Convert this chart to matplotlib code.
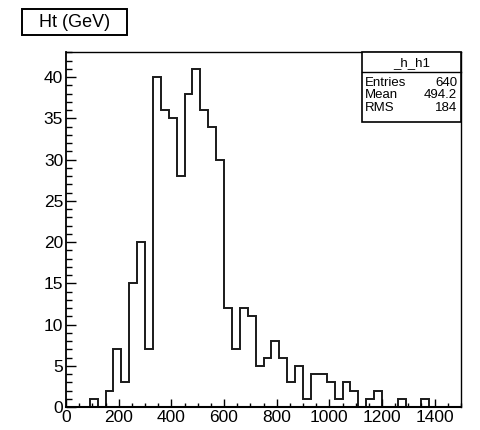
"""
Ht histogram redrawn in the ROOT style (outline histogram, title box,
stats box in the upper right corner).
"""

import numpy as np
import matplotlib.pyplot as plt
from matplotlib.patches import Rectangle
from matplotlib.ticker import MultipleLocator

# ── Data ───────────────────────────────────────────────────────────────────────
HT_MIN, HT_MAX, BIN_WIDTH = 0, 1500, 30
COUNTS = [0, 0, 0, 1, 0, 2, 7, 3, 15, 20,
          7, 40, 36, 35, 28, 38, 41, 36, 34, 30,
          12, 7, 12, 11, 5, 6, 8, 6, 3, 5,
          1, 4, 4, 3, 1, 3, 2, 0, 1, 2,
          0, 0, 1, 0, 0, 1, 0, 0, 0, 0]

TITLE        = "Ht (GeV)"
STATS_NAME   = "_h_h1"
STATS_LABELS = ["Entries", "Mean", "RMS"]
STATS_VALUES = ["640", "494.2", "184"]

W, H = 480, 430
plt.rcParams["font.family"] = ["Liberation Sans", "DejaVu Sans"]


def fx(px):
    return px / W


def fy(py):
    return 1 - py / H


def draw_hist(ax):
    edges = np.arange(HT_MIN, HT_MAX + BIN_WIDTH, BIN_WIDTH)
    ax.stairs(COUNTS, edges, color="#1a1a1a", linewidth=1.4)

    ax.set_xlim(HT_MIN, HT_MAX)
    ax.set_ylim(0, max(COUNTS) * 1.05)

    ax.xaxis.set_major_locator(MultipleLocator(200))
    ax.xaxis.set_minor_locator(MultipleLocator(50))
    ax.yaxis.set_major_locator(MultipleLocator(5))
    ax.yaxis.set_minor_locator(MultipleLocator(1))

    ax.tick_params(which="both", direction="in", top=False, right=False,
                   width=1.0, labelsize=12.5, pad=2)
    ax.tick_params(axis="x", which="major", length=5.8)
    ax.tick_params(axis="x", which="minor", length=2.6)
    ax.tick_params(axis="y", which="major", length=7.5)
    ax.tick_params(axis="y", which="minor", length=4.3)

    for side, lw in [("left", 1.3), ("bottom", 1.5), ("top", 1.0), ("right", 1.0)]:
        ax.spines[side].set_linewidth(lw)


def draw_title(fig):
    x0, y0, x1, y1 = 21.7, 9.3, 126.7, 35
    fig.add_artist(Rectangle((fx(x0), fy(y1)), fx(x1) - fx(x0), fy(y0) - fy(y1),
                             transform=fig.transFigure, fill=False,
                             ec="black", lw=1.4))
    fig.text(fx((x0 + x1) / 2), fy((y0 + y1) / 2), TITLE,
             ha="center", va="center", fontsize=13)


def draw_stats(fig):
    x0, y0, x1, y1 = 361.5, 52, 461, 121.5
    fig.add_artist(Rectangle((fx(x0), fy(y1)), fx(x1) - fx(x0), fy(y0) - fy(y1),
                             transform=fig.transFigure, fc="white",
                             ec="black", lw=1.2, zorder=5))
    fig.add_artist(plt.Line2D([fx(x0), fx(x1)], [fy(71.7), fy(71.7)],
                              transform=fig.transFigure, color="black",
                              lw=1.0, zorder=6))
    fig.text(fx((x0 + x1) / 2), fy(63), STATS_NAME, ha="center", va="center",
             fontsize=9.5, zorder=7)

    row_y = [82.5, 95, 107.7]
    for y, label, value in zip(row_y, STATS_LABELS, STATS_VALUES):
        fig.text(fx(365), fy(y), label, ha="left", va="center",
                 fontsize=9.5, zorder=7)
        fig.text(fx(457), fy(y), value, ha="right", va="center",
                 fontsize=9.5, zorder=7)


def main():
    fig = plt.figure(figsize=(W / 100, H / 100), dpi=100)
    ax = fig.add_axes([fx(66), fy(407), fx(461) - fx(66), fy(52) - fy(407)])

    draw_hist(ax)
    draw_title(fig)
    draw_stats(fig)

    fig.savefig("out.png", dpi=100)
    plt.close(fig)


if __name__ == "__main__":
    main()
